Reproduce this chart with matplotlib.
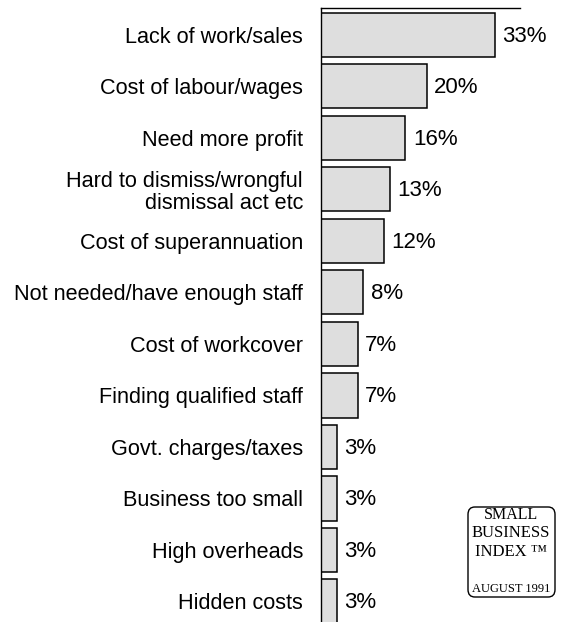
import matplotlib.pyplot as plt
from matplotlib.patches import FancyBboxPatch

plt.rcParams['font.family'] = ['Liberation Sans', 'DejaVu Sans']

reasons = [
    'Lack of work/sales',
    'Cost of labour/wages',
    'Need more profit',
    'Hard to dismiss/wrongful\ndismissal act etc',
    'Cost of superannuation',
    'Not needed/have enough staff',
    'Cost of workcover',
    'Finding qualified staff',
    'Govt. charges/taxes',
    'Business too small',
    'High overheads',
    'Hidden costs',
]
pct = [33, 20, 16, 13, 12, 8, 7, 7, 3, 3, 3, 3]

W, H = 573, 622
fig = plt.figure(figsize=(W / 100, H / 100), dpi=100)
ax = fig.add_axes([321 / W, 0, 199 / W, (H - 8) / H])

ypos = list(range(len(reasons)))
ax.barh(ypos, pct, height=0.86, color='#dedede', edgecolor='black', linewidth=1.1)

for y, v in zip(ypos, pct):
    ax.text(v + 1.4, y + 0.03, f'{v}%', va='center', ha='left', fontsize=16)

ax.set_xlim(0, 37.7)
ax.set_ylim(11.40, -0.52)
ax.set_yticks(ypos)
ax.set_yticklabels(reasons, fontsize=15.6, linespacing=1.05)
ax.tick_params(axis='y', length=0, pad=13)
ax.set_xticks([])
for side in ['right', 'bottom']:
    ax.spines[side].set_visible(False)
for side in ['left', 'top']:
    ax.spines[side].set_linewidth(1.0)

# small boxed badge in the lower right corner
badge = FancyBboxPatch((468 / W, (H - 597) / H), 87 / W, 90 / H,
                       boxstyle='round,pad=0,rounding_size=0.012',
                       transform=fig.transFigure, facecolor='white',
                       edgecolor='black', linewidth=1.0)
fig.patches.append(badge)
serif = ['Liberation Serif', 'DejaVu Serif']
for text, yy, fs in [('SMALL', 515, 11.5), ('BUSINESS', 533, 12),
                     ('INDEX \u2122', 552, 12), ('AUGUST 1991', 589, 9)]:
    fig.text(511 / W, 1 - yy / H, text, ha='center', va='center',
             fontsize=fs, family=serif)

fig.savefig('out.png', dpi=100)
